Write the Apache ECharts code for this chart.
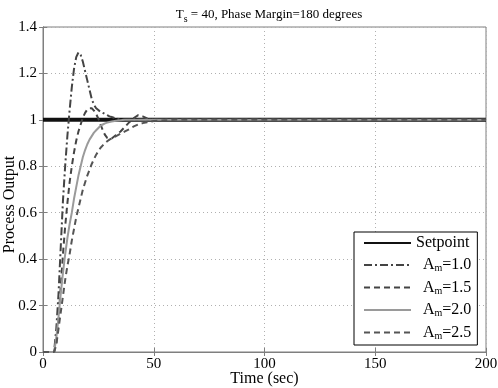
<!DOCTYPE html>
<html>
<head>
<meta charset="utf-8">
<script src="https://cdn.jsdelivr.net/npm/echarts@6/dist/echarts.min.js"></script>
<style>
html,body{margin:0;padding:0;background:#fff;}
#chart{width:498px;height:388px;}
</style>
</head>
<body>
<div id="chart"></div>
<script>
var time = [0,5,6,7,8,9,10,11,12,13,14,15,16,17,18,19,20,21,22,23,24,25,26,27,28,29,30,31,33,35,37,39,41,43,45,47,50,55,60,200];
var setpointT = [0,200];
var setpointV = [1,1];
var am10 = [0,0,0.1,0.25,0.45,0.65,0.8,0.93,1.04,1.14,1.22,1.27,1.29,1.28,1.25,1.21,1.17,1.13,1.09,1.065,1.05,1.042,1.035,1.03,1.025,1.02,1.015,1.012,1.006,1.002,1,1,1,1,1,1,1,1,1,1];
var am15 = [0,0,0.04,0.14,0.28,0.42,0.54,0.64,0.73,0.8,0.86,0.91,0.95,0.98,1.01,1.03,1.045,1.05,1.05,1.04,1.025,1.005,0.98,0.955,0.935,0.922,0.918,0.92,0.935,0.95,0.97,0.99,1.008,1.02,1.015,1.006,1.0,1,1,1];
var am20 = [0,0,0.06,0.15,0.25,0.34,0.42,0.49,0.55,0.6,0.66,0.71,0.76,0.8,0.84,0.87,0.895,0.915,0.93,0.945,0.955,0.965,0.975,0.98,0.985,0.988,0.991,0.993,0.996,0.998,1,1,1,1,1,1,1,1,1,1];
var am25 = [0,0,0.03,0.1,0.17,0.24,0.31,0.37,0.42,0.48,0.53,0.58,0.62,0.66,0.7,0.73,0.76,0.785,0.81,0.83,0.85,0.865,0.88,0.89,0.9,0.908,0.915,0.92,0.93,0.94,0.95,0.96,0.972,0.98,0.986,0.99,0.995,0.998,1,1];
var seriesNames = ['Setpoint','Am=1.0','Am=1.5','Am=2.0','Am=2.5'];
var legendLabels = {
  'Setpoint':'{p|Setpoint}',
  'Am=1.0':'{q|A}{sub|m}{r|=1.0}',
  'Am=1.5':'{q|A}{sub|m}{r|=1.5}',
  'Am=2.0':'{q|A}{sub|m}{r|=2.0}',
  'Am=2.5':'{q|A}{sub|m}{r|=2.5}'
};

function pairs(t, v){ return t.map(function(x,i){ return [x, v[i]]; }); }

var font = 'Liberation Serif';
var chart = echarts.init(document.getElementById('chart'), null, {renderer:'canvas'});
var axisCol = '#7f7f7f';
var option = {
  backgroundColor:'#fff',
  animation:false,
  textStyle:{fontFamily:font,color:'#000'},
  title:{
    text:'T{s|s} = 40, Phase Margin=180 degrees',
    left:264, top:1, textAlign:'center',
    textStyle:{fontFamily:font,fontSize:13,fontWeight:'normal',color:'#000',
      rich:{s:{fontFamily:font,fontSize:10,verticalAlign:'bottom',padding:[8,0,0,0],color:'#000'}}}
  },
  grid:{left:43,right:12,top:27,bottom:36,show:true,borderColor:axisCol,borderWidth:1,backgroundColor:'#fff',
        containLabel:false, outerBoundsMode:'none'},
  legend:{
    orient:'vertical', left:354, top:232, width:130,
    padding:[3,6,4,9], itemGap:6, itemWidth:47, itemHeight:14,
    backgroundColor:'#fff', borderColor:'#000', borderWidth:1, borderRadius:0,
    align:'left',
    data:seriesNames,
    itemStyle:{opacity:0},
    formatter:function(n){ return legendLabels[n]; },
    textStyle:{fontFamily:font,fontSize:16,color:'#000',
      rich:{p:{fontFamily:font,fontSize:16},
            q:{fontFamily:font,fontSize:16,padding:[0,0,0,7]},
            r:{fontFamily:font,fontSize:16},
            sub:{fontFamily:font,fontSize:10,verticalAlign:'bottom',padding:[7,0,0,0]}}}
  },
  xAxis:[{
    type:'value', min:0, max:200, interval:50,
    name:'Time (sec)', nameLocation:'middle', nameGap:19, nameMoveOverlap:false,
    nameTextStyle:{fontFamily:font,fontSize:16,color:'#000'},
    axisLine:{show:true,lineStyle:{color:axisCol}},
    axisTick:{show:true,inside:true,length:4,lineStyle:{color:axisCol}},
    axisLabel:{fontFamily:font,fontSize:15,color:'#000',margin:5},
    splitLine:{show:true,lineStyle:{color:'#b0b0b0',type:[1,3],width:1}}
  },{
    type:'value', min:0, max:200, interval:50, position:'top',
    axisLine:{show:true,lineStyle:{color:axisCol}},
    axisTick:{show:true,inside:true,length:4,lineStyle:{color:axisCol}},
    axisLabel:{show:false}, splitLine:{show:false}
  }],
  yAxis:[{
    type:'value', min:0, max:1.4, interval:0.2,
    name:'Process Output', nameLocation:'middle', nameGap:25, nameMoveOverlap:false,
    nameTextStyle:{fontFamily:font,fontSize:16,color:'#000',padding:[0,30,0,0]},
    axisLine:{show:true,lineStyle:{color:axisCol}},
    axisTick:{show:true,inside:true,length:4,lineStyle:{color:axisCol}},
    axisLabel:{fontFamily:font,fontSize:15,color:'#000',margin:6},
    splitLine:{show:true,lineStyle:{color:'#b0b0b0',type:[1,3],width:1}}
  },{
    type:'value', min:0, max:1.4, interval:0.2, position:'right',
    axisLine:{show:true,lineStyle:{color:axisCol}},
    axisTick:{show:true,inside:true,length:4,lineStyle:{color:axisCol}},
    axisLabel:{show:false}, splitLine:{show:false}
  }],
  series:[
    {name:'Setpoint',type:'line',data:pairs(setpointT,setpointV),symbol:'none',
     lineStyle:{color:'#111',width:4},itemStyle:{color:'#111'}},
    {name:'Am=1.0',type:'line',data:pairs(time,am10),symbol:'none',
     lineStyle:{color:'#444',width:2,type:[8,3,2,3]},itemStyle:{color:'#444'}},
    {name:'Am=1.5',type:'line',data:pairs(time,am15),symbol:'none',
     lineStyle:{color:'#444',width:2,type:[6,4]},itemStyle:{color:'#444'}},
    {name:'Am=2.0',type:'line',data:pairs(time,am20),symbol:'none',
     lineStyle:{color:'#9a9a9a',width:2},itemStyle:{color:'#9a9a9a'}},
    {name:'Am=2.5',type:'line',data:pairs(time,am25),symbol:'none',
     lineStyle:{color:'#555',width:2,type:[6,4]},itemStyle:{color:'#555'}}
  ]
};
chart.setOption(option);
</script>
</body>
</html>
